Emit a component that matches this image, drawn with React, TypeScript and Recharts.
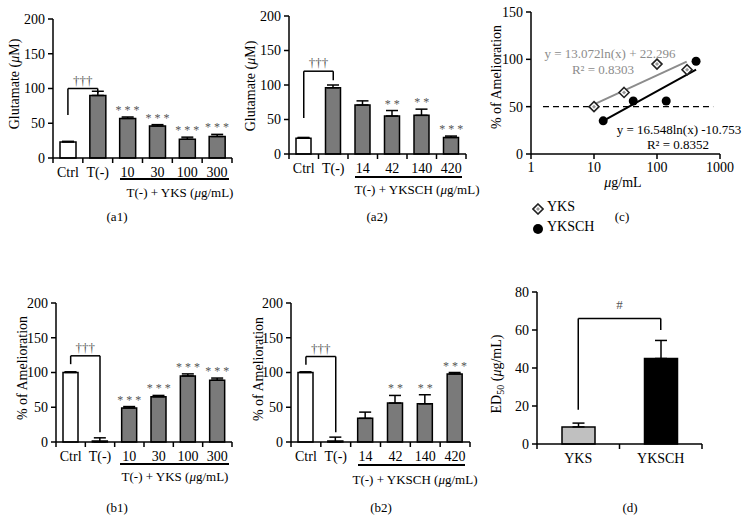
import React from 'react';
import {
  BarChart, Bar, XAxis, YAxis, ErrorBar, Cell, ReferenceLine, ReferenceDot,
  ScatterChart, Scatter,
} from 'recharts';

const FONT = '"Liberation Serif", "DejaVu Serif", serif';
const MARK = '#555';

// (a1) glutamate, YKS
const a1Groups = ['Ctrl', 'T(-)', '10', '30', '100', '300'];
const a1Values = [23, 90, 57, 46, 27, 31];
const a1Errors = [1, 6, 2, 2, 3, 3];
const a1Marks = ['', '', '* * *', '* * *', '* * *', '* * *'];
const a1Bracket = [62, 100, 93]; // ctrl leg end, top, T(-) leg end

// (a2) glutamate, YKSCH
const a2Groups = ['Ctrl', 'T(-)', '14', '42', '140', '420'];
const a2Values = [23, 96, 71, 55, 56, 24];
const a2Errors = [1, 4, 6, 8, 9, 2];
const a2Marks = ['', '', '', '* *', '* *', '* * *'];
const a2Bracket = [52, 120, 107];

// (b1) amelioration, YKS
const b1Groups = ['Ctrl', 'T(-)', '10', '30', '100', '300'];
const b1Values = [100, 0, 49, 65, 95, 89];
const b1Errors = [1, 6, 2, 2, 3, 3];
const b1Marks = ['', '', '* * *', '* * *', '* * *', '* * *'];
const b1Bracket = [112, 124, 14];

// (b2) amelioration, YKSCH
const b2Groups = ['Ctrl', 'T(-)', '14', '42', '140', '420'];
const b2Values = [100, 0, 34, 56, 55, 98];
const b2Errors = [1, 7, 9, 11, 13, 2];
const b2Marks = ['', '', '', '* *', '* *', '* * *'];
const b2Bracket = [111, 123, 14];

// (c) dose response
const yksDose = [10, 30, 100, 300];
const yksAmel = [50, 65, 95, 89];
const ykschDose = [14, 42, 140, 417];
const ykschAmel = [35, 56, 56, 98];
const yksFitX = [10, 296];
const yksFitY = [52.5, 97.5];
const ykschFitX = [14, 417];
const ykschFitY = [35, 89];

// (d) ED50
const dGroups = ['YKS', 'YKSCH'];
const dValues = [9, 45];
const dErrors = [2, 9.5];
const dBracket = [18, 66, 60];

const pctTicks = [0, 50, 100, 150, 200];

const buildRows = (groups: string[], values: number[], errors: number[], marks: string[]) =>
  groups.map((g, i) => ({ name: g, value: values[i], err: [0, errors[i]], sig: marks[i] }));

const CatTick = (props: any) => {
  const { x, y, payload, index, step, count } = props;
  return (
    <g>
      <line x1={x - step / 2} x2={x - step / 2} y1={y} y2={y + 5} stroke="#000" strokeWidth={1.5} />
      {index === count - 1 && (
        <line x1={x + step / 2} x2={x + step / 2} y1={y} y2={y + 5} stroke="#000" strokeWidth={1.5} />
      )}
      <text x={x} y={y + 19} textAnchor="middle" fontFamily={FONT} fontSize={14} fill="#000">
        {payload.value}
      </text>
    </g>
  );
};

interface BarPanelProps {
  rows: { name: string; value: number; err: number[]; sig: string }[];
  bracket: number[];
  left: number;
  top: number;
  width: number;
  height: number;
  margin: { top: number; right: number; bottom: number; left: number };
  yWidth: number;
  yMax: number;
  yTicks: number[];
  barSize: number;
  fills: (i: number) => string;
  bracketLabel: string;
}

const BarPanel: React.FC<BarPanelProps> = ({
  rows, bracket, left, top, width, height, margin, yWidth, yMax, yTicks, barSize, fills, bracketLabel,
}) => {
  const plotW = width - margin.left - margin.right - yWidth;
  const step = plotW / rows.length;
  const a = rows[0].name;
  const b = rows[1].name;
  return (
    <div style={{ position: 'absolute', left, top }}>
      <BarChart width={width} height={height} data={rows} margin={margin}>
        <XAxis
          dataKey="name"
          height={30}
          interval={0}
          tickSize={0}
          tickMargin={0}
          tickLine={false}
          axisLine={{ stroke: '#000', strokeWidth: 1.5 }}
          tick={(p: any) => <CatTick {...p} step={step} count={rows.length} />}
        />
        <YAxis
          width={yWidth}
          domain={[0, yMax]}
          ticks={yTicks}
          interval={0}
          tickSize={5}
          tickMargin={3}
          axisLine={{ stroke: '#000', strokeWidth: 1.5 }}
          tickLine={{ stroke: '#000', strokeWidth: 1.5 }}
          tick={{ fill: '#000', fontSize: 14, fontFamily: FONT }}
        />
        <Bar dataKey="value" barSize={barSize} minPointSize={1} stroke="#000" strokeWidth={1.5} isAnimationActive={false}>
          {rows.map((r, i) => (
            <Cell key={r.name} fill={fills(i)} />
          ))}
          <ErrorBar dataKey="err" width={6} stroke="#000" strokeWidth={1.5} direction="y" />
        </Bar>
        <ReferenceLine segment={[{ x: a, y: bracket[0] }, { x: a, y: bracket[1] }]} stroke="#000" strokeWidth={1.5} />
        <ReferenceLine
          segment={[{ x: a, y: bracket[1] }, { x: b, y: bracket[1] }]}
          stroke="#000"
          strokeWidth={1.5}
          label={{ value: bracketLabel, position: 'top', offset: 4, fill: MARK, fontSize: 13, fontFamily: FONT }}
        />
        <ReferenceLine segment={[{ x: b, y: bracket[1] }, { x: b, y: bracket[2] }]} stroke="#000" strokeWidth={1.5} />
        {rows.filter((r) => r.sig).map((r) => (
          <ReferenceDot
            key={`sig-${r.name}`}
            x={r.name}
            y={r.value + r.err[1]}
            r={0}
            stroke="none"
            label={{ value: r.sig, position: 'top', offset: 3, fill: MARK, fontSize: 12, fontFamily: FONT }}
          />
        ))}
      </BarChart>
    </div>
  );
};

const Abs: React.FC<{ x: number; y: number; rotate?: boolean; size?: number; color?: string; align?: string; children: React.ReactNode }> = ({
  x, y, rotate, size = 14, color = '#000', align = 'center', children,
}) => (
  <div
    style={{
      position: 'absolute',
      left: x,
      top: y,
      transform: `translate(${align === 'left' ? '0' : '-50%'}, -50%)${rotate ? ' rotate(-90deg)' : ''}`,
      whiteSpace: 'nowrap',
      fontFamily: FONT,
      fontSize: size,
      color,
      lineHeight: 1,
    }}
  >
    {children}
  </div>
);

const Rule: React.FC<{ x1: number; x2: number; y: number }> = ({ x1, x2, y }) => (
  <div style={{ position: 'absolute', left: x1, top: y, width: x2 - x1, height: 1.5, background: '#000' }} />
);

const Diamond = (p: any) => {
  const { cx, cy } = p;
  const s = 5;
  const t = 2;
  return (
    <g>
      <polygon points={`${cx},${cy - s} ${cx + s},${cy} ${cx},${cy + s} ${cx - s},${cy}`} fill="#fff" stroke="#222" strokeWidth={1.6} />
      <polygon points={`${cx},${cy - t} ${cx + t},${cy} ${cx},${cy + t} ${cx - t},${cy}`} fill="#999" />
    </g>
  );
};

const Dot = (p: any) => <circle cx={p.cx} cy={p.cy} r={4.5} fill="#000" />;

const mu = <i>μ</i>;

export default function App() {
  const gray = (i: number) => (i === 0 ? '#fff' : '#7a7a7a');
  const yksPts = yksDose.map((d, i) => ({ x: d, y: yksAmel[i] }));
  const ykschPts = ykschDose.map((d, i) => ({ x: d, y: ykschAmel[i] }));
  const dRows = dGroups.map((g, i) => ({ name: g, value: dValues[i], err: [0, dErrors[i]] }));
  const dStep = 165 / 2;

  return (
    <div style={{ position: 'absolute', left: 0, top: 0, width: 754, height: 522, background: '#fff', overflow: 'hidden' }}>
      <BarPanel
        rows={buildRows(a1Groups, a1Values, a1Errors, a1Marks)}
        bracket={a1Bracket}
        left={0} top={0} width={240} height={200}
        margin={{ top: 19, right: 8, bottom: 12, left: 10 }}
        yWidth={43} yMax={200} yTicks={pctTicks} barSize={16} fills={gray} bracketLabel="†††"
      />
      <BarPanel
        rows={buildRows(a2Groups, a2Values, a2Errors, a2Marks)}
        bracket={a2Bracket}
        left={240} top={0} width={235} height={200}
        margin={{ top: 16, right: 9, bottom: 16, left: 6 }}
        yWidth={43} yMax={200} yTicks={pctTicks} barSize={15} fills={gray} bracketLabel="†††"
      />
      <BarPanel
        rows={buildRows(b1Groups, b1Values, b1Errors, b1Marks)}
        bracket={b1Bracket}
        left={0} top={250} width={240} height={230}
        margin={{ top: 53, right: 8, bottom: 8, left: 13 }}
        yWidth={43} yMax={200} yTicks={pctTicks} barSize={15} fills={gray} bracketLabel="†††"
      />
      <BarPanel
        rows={buildRows(b2Groups, b2Values, b2Errors, b2Marks)}
        bracket={b2Bracket}
        left={240} top={250} width={240} height={230}
        margin={{ top: 53, right: 10, bottom: 8, left: 8 }}
        yWidth={43} yMax={200} yTicks={pctTicks} barSize={15} fills={gray} bracketLabel="†††"
      />

      {/* (c) */}
      <div style={{ position: 'absolute', left: 490, top: 0 }}>
        <ScatterChart width={264} height={200} margin={{ top: 12, right: 34, bottom: 21, left: 6 }}>
          <XAxis
            type="number"
            dataKey="x"
            scale="log"
            domain={[1, 1000]}
            ticks={[1, 10, 100, 1000]}
            interval={0}
            height={25}
            tickSize={5}
            tickMargin={3}
            axisLine={{ stroke: '#000', strokeWidth: 1.5 }}
            tickLine={{ stroke: '#000', strokeWidth: 1.5 }}
            tick={{ fill: '#000', fontSize: 14, fontFamily: FONT }}
          />
          <YAxis
            type="number"
            dataKey="y"
            width={35}
            domain={[0, 150]}
            ticks={[0, 50, 100, 150]}
            interval={0}
            tickSize={5}
            tickMargin={3}
            axisLine={{ stroke: '#000', strokeWidth: 1.5 }}
            tickLine={{ stroke: '#000', strokeWidth: 1.5 }}
            tick={{ fill: '#000', fontSize: 14, fontFamily: FONT }}
          />
          <ReferenceLine segment={[{ x: 1.55, y: 50 }, { x: 780, y: 50 }]} stroke="#000" strokeWidth={1.3} strokeDasharray="6 4" />
          <ReferenceLine segment={[{ x: yksFitX[0], y: yksFitY[0] }, { x: yksFitX[1], y: yksFitY[1] }]} stroke="#8c8c8c" strokeWidth={2} />
          <ReferenceLine segment={[{ x: ykschFitX[0], y: ykschFitY[0] }, { x: ykschFitX[1], y: ykschFitY[1] }]} stroke="#000" strokeWidth={2} />
          <Scatter name="YKS" data={yksPts} shape={Diamond} isAnimationActive={false} />
          <Scatter name="YKSCH" data={ykschPts} shape={Dot} isAnimationActive={false} />
        </ScatterChart>
      </div>

      {/* (d) */}
      <div style={{ position: 'absolute', left: 490, top: 250 }}>
        <BarChart width={264} height={230} data={dRows} margin={{ top: 42, right: 52, bottom: 6, left: 12 }}>
          <XAxis
            dataKey="name"
            height={30}
            interval={0}
            tickSize={0}
            tickMargin={0}
            tickLine={false}
            axisLine={{ stroke: '#000', strokeWidth: 1.5 }}
            tick={(p: any) => <CatTick {...p} step={dStep} count={dRows.length} />}
          />
          <YAxis
            width={35}
            domain={[0, 80]}
            ticks={[0, 20, 40, 60, 80]}
            interval={0}
            tickSize={5}
            tickMargin={3}
            axisLine={{ stroke: '#000', strokeWidth: 1.5 }}
            tickLine={{ stroke: '#000', strokeWidth: 1.5 }}
            tick={{ fill: '#000', fontSize: 14, fontFamily: FONT }}
          />
          <Bar dataKey="value" barSize={33} stroke="#000" strokeWidth={1.5} isAnimationActive={false}>
            {dRows.map((r, i) => (
              <Cell key={r.name} fill={i === 0 ? '#c0c0c0' : '#000'} />
            ))}
            <ErrorBar dataKey="err" width={6} stroke="#000" strokeWidth={1.5} direction="y" />
          </Bar>
          <ReferenceLine segment={[{ x: 'YKS', y: dBracket[0] }, { x: 'YKS', y: dBracket[1] }]} stroke="#000" strokeWidth={1.5} />
          <ReferenceLine
            segment={[{ x: 'YKS', y: dBracket[1] }, { x: 'YKSCH', y: dBracket[1] }]}
            stroke="#000"
            strokeWidth={1.5}
            label={{ value: '#', position: 'top', offset: 10, fill: MARK, fontSize: 13, fontFamily: FONT }}
          />
          <ReferenceLine segment={[{ x: 'YKSCH', y: dBracket[1] }, { x: 'YKSCH', y: dBracket[2] }]} stroke="#000" strokeWidth={1.5} />
        </BarChart>
      </div>

      {/* axis titles */}
      <Abs x={15} y={84} rotate>Glutamate ({mu}M)</Abs>
      <Abs x={251} y={86} rotate>Glutamate ({mu}M)</Abs>
      <Abs x={497} y={77} rotate>% of Amelioration</Abs>
      <Abs x={23} y={368} rotate>% of Amelioration</Abs>
      <Abs x={259} y={369} rotate>% of Amelioration</Abs>
      <Abs x={498} y={374} rotate>ED<sub style={{ fontSize: 10 }}>50</sub> ({mu}g/mL)</Abs>
      <Abs x={623} y={183}>{mu}g/mL</Abs>

      {/* treatment groups */}
      <Rule x1={120} x2={229} y={178} />
      <Abs x={180} y={192} size={13}>T(-) + YKS ({mu}g/mL)</Abs>
      <Rule x1={355} x2={462} y={176} />
      <Abs x={417} y={189} size={13}>T(-) + YKSCH ({mu}g/mL)</Abs>
      <Rule x1={120} x2={229} y={463} />
      <Abs x={175} y={476} size={13}>T(-) + YKS ({mu}g/mL)</Abs>
      <Rule x1={358} x2={465} y={464} />
      <Abs x={415} y={479} size={13}>T(-) + YKSCH ({mu}g/mL)</Abs>

      {/* fit equations */}
      <Abs x={610} y={53} size={13} color="#8c8c8c">y = 13.072ln(x) + 22.296</Abs>
      <Abs x={603} y={69} size={13} color="#8c8c8c">R² = 0.8303</Abs>
      <Abs x={679} y={129} size={13}>y = 16.548ln(x) -10.753</Abs>
      <Abs x={678} y={144} size={13}>R² = 0.8352</Abs>

      {/* legend (c) */}
      <div style={{ position: 'absolute', left: 532, top: 201 }}>
        <svg width={12} height={12}>
          <Diamond cx={6} cy={6} />
        </svg>
      </div>
      <Abs x={547} y={207} align="left">YKS</Abs>
      <div style={{ position: 'absolute', left: 532, top: 221 }}>
        <svg width={12} height={12}>
          <circle cx={6} cy={6} r={5} fill="#000" />
        </svg>
      </div>
      <Abs x={547} y={227} align="left">YKSCH</Abs>

      {/* panel labels */}
      <Abs x={117} y={216} size={13}>(a1)</Abs>
      <Abs x={377} y={216} size={13}>(a2)</Abs>
      <Abs x={622} y={216} size={13}>(c)</Abs>
      <Abs x={117} y={507} size={13}>(b1)</Abs>
      <Abs x={381} y={507} size={13}>(b2)</Abs>
      <Abs x={630} y={507} size={13}>(d)</Abs>
    </div>
  );
}
